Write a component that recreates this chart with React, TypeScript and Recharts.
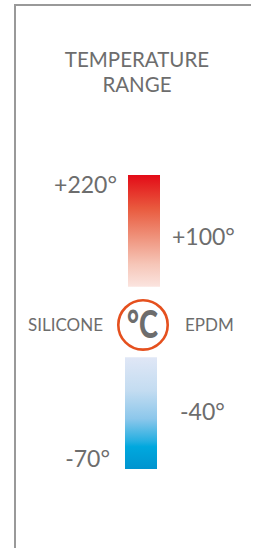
import { ComposedChart, Bar, XAxis, YAxis, ReferenceDot } from 'recharts';

// gauge levels run 0 (bottom of cold band) to 100 (top of hot band)
const categories = ['range'];
const hotBand = [62, 100];
const coldBand = [0, 38];
const unitLevel = 49;
const unitText = '°C';
const titleLines = ['TEMPERATURE', 'RANGE'];
const materials = ['SILICONE', 'EPDM'];
const siliconeLabels = ['+220°', '-70°'];
const siliconeLevels = [96.6, 3.4];
const epdmLabels = ['+100°', '-40°'];
const epdmLevels = [79, 19.6];

const chartData = categories.map((name) => ({ name, hot: hotBand, cold: coldBand }));

const GRAY = '#6d6d6d';
const FONT = 'Lato, "Open Sans", sans-serif';

// horizontal gaps between bar centre and label edge
const siliconeGaps = [25.5, 32.5];
const epdmGaps = [29.5, 37.5];
const materialGaps = [39.5, 42.5];

const sideLabel = (text: string, gap: number, side: 'left' | 'right', size: number) => (props: any) => (
  <text
    x={side === 'left' ? props.cx - gap : props.cx + gap}
    y={props.cy}
    dy={size * 0.36}
    textAnchor={side === 'left' ? 'end' : 'start'}
    fontFamily={FONT}
    fontSize={size}
    fill={GRAY}
  >
    {text}
  </text>
);

export default function App() {
  return (
    <div style={{ position: 'relative', width: 255, height: 548, background: '#fff', overflow: 'hidden' }}>
      <style>{'body{margin:0}'}</style>
      <div style={{ position: 'absolute', left: 14, top: 4, width: 2, height: 544, background: '#999' }} />
      <div style={{ position: 'absolute', left: 14, top: 4, width: 237, height: 2, background: '#999' }} />
      <div
        style={{
          position: 'absolute',
          left: 14,
          width: 246,
          top: 47,
          textAlign: 'center',
          fontFamily: FONT,
          fontSize: 20.5,
          lineHeight: '25px',
          color: GRAY,
        }}
      >
        {titleLines.map((t) => (
          <div key={t}>{t}</div>
        ))}
      </div>
      <div style={{ position: 'absolute', left: 0, top: 0 }}>
        <ComposedChart
          width={255}
          height={548}
          data={chartData}
          margin={{ top: 175, bottom: 79, left: 30, right: 0 }}
          barSize={32}
          barGap={-29}
        >
          <defs>
            <linearGradient id="hotGrad" x1="0" y1="0" x2="0" y2="1">
              <stop offset="0%" stopColor="#e30b17" />
              <stop offset="30%" stopColor="#e95a3e" />
              <stop offset="55%" stopColor="#ef917a" />
              <stop offset="80%" stopColor="#f6c6b8" />
              <stop offset="100%" stopColor="#fbe4df" />
            </linearGradient>
            <linearGradient id="coldGrad" x1="0" y1="0" x2="0" y2="1">
              <stop offset="0%" stopColor="#e0e7f6" />
              <stop offset="30%" stopColor="#c3dcf1" />
              <stop offset="55%" stopColor="#8cc7eb" />
              <stop offset="75%" stopColor="#25afe1" />
              <stop offset="80%" stopColor="#00a8de" />
              <stop offset="100%" stopColor="#0094cf" />
            </linearGradient>
          </defs>
          <XAxis dataKey="name" type="category" hide />
          <YAxis type="number" domain={[0, 100]} hide />
          <Bar dataKey="cold" fill="url(#coldGrad)" isAnimationActive={false} />
          <Bar dataKey="hot" fill="url(#hotGrad)" isAnimationActive={false} />
          <ReferenceDot
            x={categories[0]}
            y={unitLevel}
            r={25}
            ifOverflow="visible"
            shape={(p: any) => (
              <g>
                <circle cx={p.cx + 0.5} cy={p.cy} r={24.7} fill="#fff" stroke="#e5501e" strokeWidth={2.6} />
                <text
                  x={p.cx - 15.5}
                  y={p.cy + 13.5}
                  textLength={31}
                  lengthAdjust="spacingAndGlyphs"
                  fontFamily={FONT}
                  fontWeight={900}
                  fontSize={38}
                  fill={GRAY}
                >
                  {unitText}
                </text>
              </g>
            )}
          />
          {materials.map((m, i) => (
            <ReferenceDot
              key={m}
              x={categories[0]}
              y={unitLevel}
              r={0}
              ifOverflow="visible"
              shape={sideLabel(m, materialGaps[i], i === 0 ? 'left' : 'right', 17)}
            />
          ))}
          {siliconeLabels.map((t, i) => (
            <ReferenceDot
              key={t}
              x={categories[0]}
              y={siliconeLevels[i]}
              r={0}
              ifOverflow="visible"
              shape={sideLabel(t, siliconeGaps[i], 'left', 23)}
            />
          ))}
          {epdmLabels.map((t, i) => (
            <ReferenceDot
              key={t}
              x={categories[0]}
              y={epdmLevels[i]}
              r={0}
              ifOverflow="visible"
              shape={sideLabel(t, epdmGaps[i], 'right', 23)}
            />
          ))}
        </ComposedChart>
      </div>
    </div>
  );
}
